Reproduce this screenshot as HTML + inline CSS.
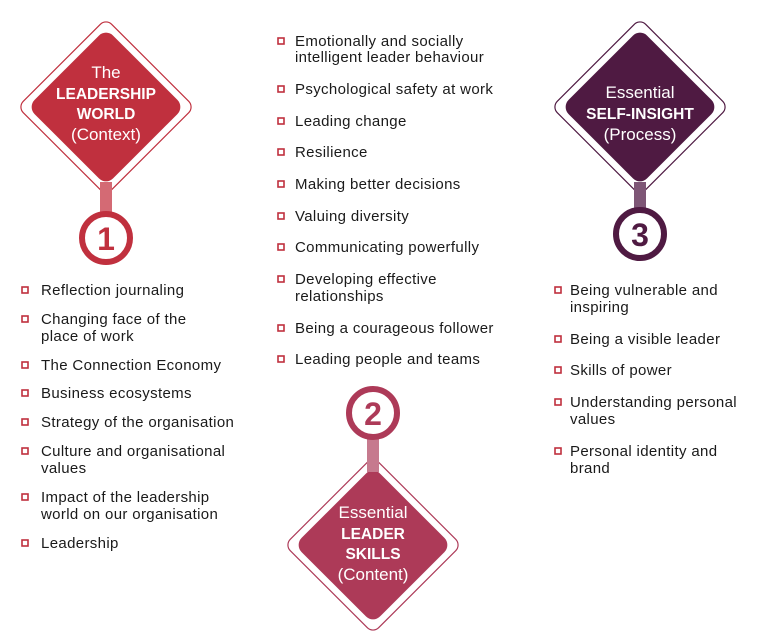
<!DOCTYPE html>
<html><head><meta charset="utf-8"><style>
html,body{margin:0;padding:0;background:#fff;}
svg{display:block;font-family:"Liberation Sans",sans-serif;}
.t{font-size:15px;fill:#1a1a1a;letter-spacing:0.35px;}
.w{fill:#fff;text-anchor:middle;font-size:17px;}
.b{font-weight:bold;font-size:15.5px;}
</style></head><body>
<svg width="768" height="633" viewBox="0 0 768 633" xmlns="http://www.w3.org/2000/svg">
<!-- Diamond 1 -->
<g transform="translate(106,107) rotate(45)">
<rect x="-62.5" y="-62.5" width="125" height="125" rx="8" fill="#fff" stroke="#c0303e" stroke-width="1.2"/>
<rect x="-55.5" y="-55.5" width="111" height="111" rx="10" fill="#c0303e"/>
</g>
<rect x="100" y="182" width="12" height="32" fill="#d46a74"/>
<circle cx="106" cy="238" r="24" fill="#fff" stroke="#c0303e" stroke-width="6"/>
<text x="106" y="250" text-anchor="middle" font-size="32" font-weight="bold" fill="#c0303e">1</text>
<text class="w" x="106" y="78">The</text>
<text class="w b" x="106" y="99">LEADERSHIP</text>
<text class="w b" x="106" y="119">WORLD</text>
<text class="w" x="106" y="140">(Context)</text>

<!-- Diamond 2 -->
<g transform="translate(373,545) rotate(45)">
<rect x="-62.5" y="-62.5" width="125" height="125" rx="8" fill="#fff" stroke="#ad3a58" stroke-width="1.2"/>
<rect x="-55.5" y="-55.5" width="111" height="111" rx="10" fill="#ad3a58"/>
</g>
<rect x="367" y="438" width="12" height="34" fill="#c67a8e"/>
<circle cx="373" cy="413" r="24" fill="#fff" stroke="#ad3a58" stroke-width="6"/>
<text x="373" y="425" text-anchor="middle" font-size="32" font-weight="bold" fill="#ad3a58">2</text>
<text class="w" x="373" y="518">Essential</text>
<text class="w b" x="373" y="539">LEADER</text>
<text class="w b" x="373" y="559">SKILLS</text>
<text class="w" x="373" y="580">(Content)</text>

<!-- Diamond 3 -->
<g transform="translate(640,107) rotate(45)">
<rect x="-62.5" y="-62.5" width="125" height="125" rx="8" fill="#fff" stroke="#4f1a42" stroke-width="1.2"/>
<rect x="-55.5" y="-55.5" width="111" height="111" rx="10" fill="#4f1a42"/>
</g>
<rect x="634" y="182" width="12" height="30" fill="#7e5676"/>
<circle cx="640" cy="234" r="24" fill="#fff" stroke="#4f1a42" stroke-width="6"/>
<text x="640" y="246" text-anchor="middle" font-size="32" font-weight="bold" fill="#4f1a42">3</text>
<text class="w" x="640" y="98">Essential</text>
<text class="w b" x="640" y="119">SELF-INSIGHT</text>
<text class="w" x="640" y="140">(Process)</text>

<!-- bullets -->
<g fill="#fff" stroke="#c0303e" stroke-width="1.6">
<rect x="22" y="287" width="6" height="6"/><rect x="22" y="316" width="6" height="6"/>
<rect x="22" y="362" width="6" height="6"/><rect x="22" y="390" width="6" height="6"/>
<rect x="22" y="419" width="6" height="6"/><rect x="22" y="448" width="6" height="6"/>
<rect x="22" y="494" width="6" height="6"/><rect x="22" y="540" width="6" height="6"/>
<rect x="278" y="38" width="6" height="6"/><rect x="278" y="86" width="6" height="6"/>
<rect x="278" y="118" width="6" height="6"/><rect x="278" y="149" width="6" height="6"/>
<rect x="278" y="181" width="6" height="6"/><rect x="278" y="213" width="6" height="6"/>
<rect x="278" y="244" width="6" height="6"/><rect x="278" y="276" width="6" height="6"/>
<rect x="278" y="325" width="6" height="6"/><rect x="278" y="356" width="6" height="6"/>
<rect x="555" y="287" width="6" height="6"/><rect x="555" y="336" width="6" height="6"/>
<rect x="555" y="367" width="6" height="6"/><rect x="555" y="399" width="6" height="6"/>
<rect x="555" y="448" width="6" height="6"/>
</g>
<g class="t">
<text x="41" y="295">Reflection journaling</text>
<text x="41" y="324">Changing face of the</text><text x="41" y="341">place of work</text>
<text x="41" y="370">The Connection Economy</text>
<text x="41" y="398">Business ecosystems</text>
<text x="41" y="427">Strategy of the organisation</text>
<text x="41" y="456">Culture and organisational</text><text x="41" y="473">values</text>
<text x="41" y="502">Impact of the leadership</text><text x="41" y="519">world on our organisation</text>
<text x="41" y="548">Leadership</text>

<text x="295" y="46">Emotionally and socially</text><text x="295" y="62">intelligent leader behaviour</text>
<text x="295" y="94">Psychological safety at work</text>
<text x="295" y="126">Leading change</text>
<text x="295" y="157">Resilience</text>
<text x="295" y="189">Making better decisions</text>
<text x="295" y="221">Valuing diversity</text>
<text x="295" y="252">Communicating powerfully</text>
<text x="295" y="284">Developing effective</text><text x="295" y="301">relationships</text>
<text x="295" y="333">Being a courageous follower</text>
<text x="295" y="364">Leading people and teams</text>

<text x="570" y="295">Being vulnerable and</text><text x="570" y="312">inspiring</text>
<text x="570" y="344">Being a visible leader</text>
<text x="570" y="375">Skills of power</text>
<text x="570" y="407">Understanding personal</text><text x="570" y="424">values</text>
<text x="570" y="456">Personal identity and</text><text x="570" y="473">brand</text>
</g>
</svg>
</body></html>
